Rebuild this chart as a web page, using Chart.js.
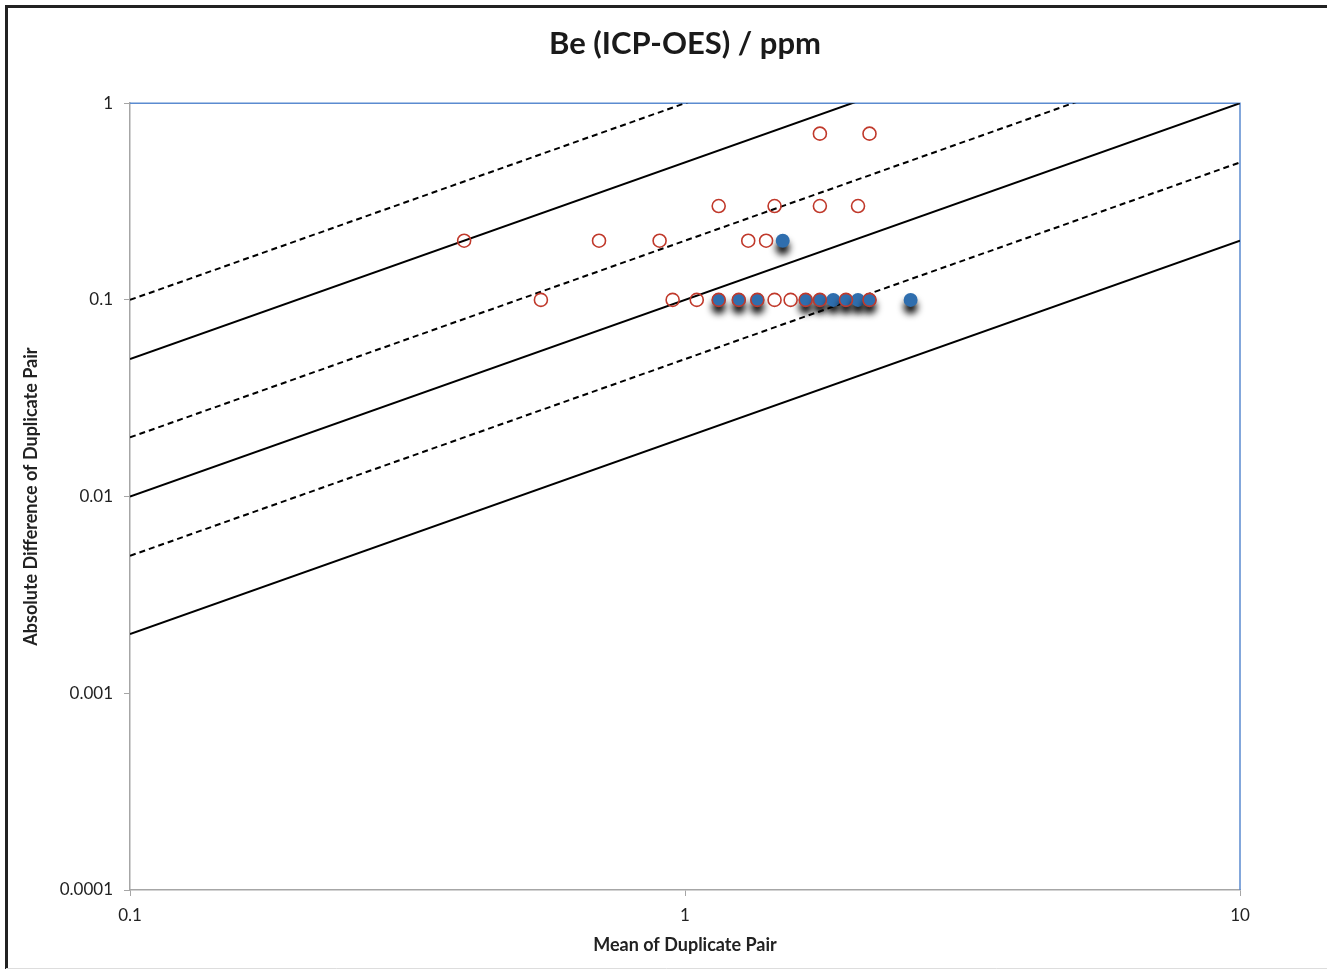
<!DOCTYPE html>
<html>
<head>
<meta charset="utf-8">
<script src="https://cdn.jsdelivr.net/npm/chart.js@4/dist/chart.umd.min.js"></script>
<style>
  body { margin: 0; background: #fff; }
  #wrap { width: 1327px; height: 970px; position: relative; }
</style>
</head>
<body>
<div id="wrap"><canvas id="myChart" width="1327" height="970"></canvas></div>
<script>
// Values
let xTicks = [0.1, 1, 10];
let yTicks = [0.0001, 0.001, 0.01, 0.1, 1];

// red open circles
let redX = [0.4, 0.55, 0.7, 0.9, 0.95, 1.05, 1.15, 1.15, 1.25, 1.3, 1.35, 1.4, 1.45, 1.45, 1.55, 1.65, 1.75, 1.75, 1.75, 1.95, 2.05, 2.15, 2.15];
let redY = [0.2, 0.1, 0.2, 0.2, 0.1, 0.1, 0.3, 0.1, 0.1, 0.2, 0.1, 0.2, 0.3, 0.1, 0.1, 0.1, 0.7, 0.3, 0.1, 0.1, 0.3, 0.7, 0.1];

// blue filled circles
let blueX = [1.5, 1.15, 1.25, 1.35, 1.65, 1.75, 1.85, 1.95, 2.05, 2.15, 2.55];
let blueY = [0.2, 0.1, 0.1, 0.1, 0.1, 0.1, 0.1, 0.1, 0.1, 0.1, 0.1];

// reference lines, ends at x = 0.1 and x = 10
let lineX = [0.1, 10];
let dashA = [0.1, 10];
let solidA = [0.05, 5];
let dashB = [0.02, 2];
let solidB = [0.01, 1];
let dashC = [0.005, 0.5];
let solidC = [0.002, 0.2];

let ctx = document.getElementById('myChart').getContext('2d');

function pts(xs, ys) {
    return xs.map((x, i) => ({ x: x, y: ys[i] }));
}

function refLine(ys, dashed) {
    return {
        type: 'line',
        data: pts(lineX, ys),
        borderColor: '#000',
        borderWidth: 2,
        borderDash: dashed ? [6, 4] : [],
        pointRadius: 0,
        fill: false,
        order: 3
    };
}

// dark frame round the picture
const framePlugin = {
    id: 'frame',
    beforeDraw(chart) {
        const c = chart.ctx;
        c.save();
        c.fillStyle = '#fff';
        c.fillRect(0, 0, chart.width, chart.height);
        c.strokeStyle = '#222';
        c.lineWidth = 3;
        c.beginPath();
        c.moveTo(6.5, 969);
        c.lineTo(6.5, 6.5);
        c.lineTo(1327, 6.5);
        c.stroke();
        c.strokeStyle = '#ddd';
        c.lineWidth = 1;
        c.beginPath();
        c.moveTo(6, 968.5);
        c.lineTo(1327, 968.5);
        c.stroke();
        c.restore();
    },
    beforeDatasetsDraw(chart) {
        const a = chart.chartArea;
        const c = chart.ctx;
        c.save();
        c.strokeStyle = '#5b8bd0';
        c.lineWidth = 1.5;
        c.beginPath();
        c.moveTo(a.left, a.top);
        c.lineTo(a.right, a.top);
        c.lineTo(a.right, a.bottom);
        c.stroke();
        c.restore();
    }
};

// black drop shadow under the blue markers
const shadowPlugin = {
    id: 'shadow',
    beforeDatasetDraw(chart, args) {
        if (args.meta._dataset.label === 'blue') {
            const c = chart.ctx;
            c.save();
            c.shadowColor = 'rgba(0,0,0,0.95)';
            c.shadowBlur = 7;
            c.shadowOffsetX = 0;
            c.shadowOffsetY = 7;
        }
    },
    afterDatasetDraw(chart, args) {
        if (args.meta._dataset.label === 'blue') {
            chart.ctx.restore();
        }
    }
};

Chart.defaults.font.family = 'Lato, "Open Sans", sans-serif';
Chart.defaults.color = '#222';

new Chart(ctx, {
    type: 'scatter',
    data: {
        datasets: [
            {
                label: 'red',
                data: pts(redX, redY),
                pointRadius: 6.5,
                pointBackgroundColor: 'rgba(0,0,0,0)',
                pointBorderColor: '#c0392b',
                pointBorderWidth: 1.6,
                order: 1
            },
            {
                label: 'blue',
                data: pts(blueX, blueY),
                pointRadius: 7,
                pointBackgroundColor: '#2f6eae',
                pointBorderColor: '#2f6eae',
                pointBorderWidth: 0,
                order: 2
            },
            refLine(dashA, true),
            refLine(solidA, false),
            refLine(dashB, true),
            refLine(solidB, false),
            refLine(dashC, true),
            refLine(solidC, false)
        ]
    },
    options: {
        responsive: false,
        animation: false,
        layout: { padding: { left: 0, right: 87, top: 0, bottom: 0 } },
        plugins: {
            legend: { display: false },
            tooltip: { enabled: false },
            title: {
                display: true,
                fullSize: false,
                text: 'Be (ICP-OES) / ppm',
                color: '#1a1a1a',
                font: { size: 31, weight: 'bold' },
                padding: { top: 25, bottom: 41 }
            }
        },
        scales: {
            x: {
                type: 'logarithmic',
                min: 0.1,
                max: 10,
                afterBuildTicks: axis => { axis.ticks = xTicks.map(v => ({ value: v })); },
                afterFit: axis => { axis.height = 80; },
                ticks: {
                    padding: 9,
                    font: { size: 17 },
                    callback: v => String(v)
                },
                grid: { drawOnChartArea: false, drawTicks: true, tickLength: 6, color: '#a6a6a6' },
                border: { color: '#a6a6a6', width: 1.5 },
                title: {
                    display: true,
                    text: 'Mean of Duplicate Pair',
                    font: { size: 18, weight: 'bold' },
                    padding: { top: 4, bottom: 14 }
                }
            },
            y: {
                type: 'logarithmic',
                min: 0.0001,
                max: 1,
                afterBuildTicks: axis => { axis.ticks = yTicks.map(v => ({ value: v })); },
                afterFit: axis => { axis.width = 130; },
                ticks: {
                    padding: 11,
                    font: { size: 17 },
                    callback: v => String(v)
                },
                grid: { drawOnChartArea: false, drawTicks: true, tickLength: 6, color: '#a6a6a6' },
                border: { color: '#a6a6a6', width: 1.5 },
                title: {
                    display: true,
                    text: 'Absolute Difference of Duplicate Pair',
                    font: { size: 18, weight: 'bold' },
                    padding: { top: 20, bottom: 4 }
                }
            }
        }
    },
    plugins: [framePlugin, shadowPlugin]
});
</script>
</body>
</html>
